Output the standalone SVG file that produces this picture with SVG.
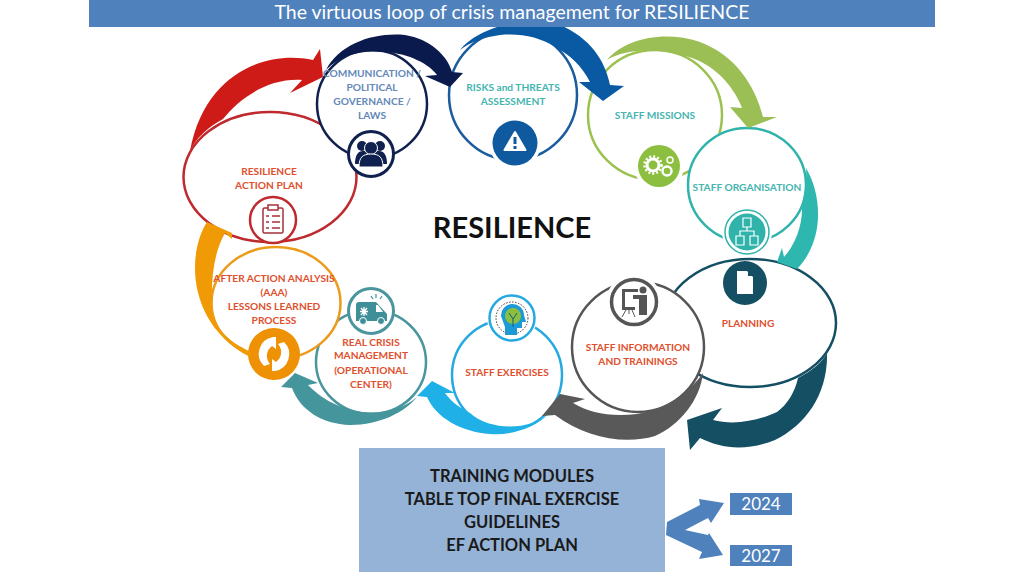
<svg xmlns="http://www.w3.org/2000/svg" width="1024" height="576" viewBox="0 0 1024 576">
<style>
text{font-family:Lato,"Liberation Sans",sans-serif;text-anchor:middle}
.b{font-weight:700;font-size:10.2px}
.r{fill:#e0502e}
.t{fill:#45b5b0}
.c{fill:#6488b8}
.n{fill:#fff}
</style>
<rect width="1024" height="576" fill="#fff"/>
<g id="node-resilience-plan">
<ellipse cx="270" cy="177" rx="86.500" ry="65" fill="#fff" stroke="#bf2a2e" stroke-width="2.500"/>
<text class="b r" x="269" y="175">RESILIENCE</text><text class="b r" x="269" y="189">ACTION PLAN</text>
<circle cx="273" cy="220" r="23" fill="#fff" stroke="#bf2a2e" stroke-width="2.500"/>
<g fill="none" stroke="#a8303a" stroke-width="1.500"><rect x="263" y="208" width="20" height="25" rx="1.500"/><rect x="268" y="205" width="10" height="5" fill="#fff"/><path d="M266,216h3M272,216h8M266,222h3M272,222h8M266,228h3M272,228h8"/></g>
</g>
<g id="node-communication">
<ellipse cx="372" cy="104" rx="55" ry="54" fill="#fff" stroke="#10204f" stroke-width="2.500"/>
<text class="b c" x="372" y="77">COMMUNICATION /</text><text class="b c" x="372" y="91">POLITICAL</text><text class="b c" x="372" y="105">GOVERNANCE /</text><text class="b c" x="372" y="119">LAWS</text>
<circle cx="371" cy="154" r="22.500" fill="#fff" stroke="#10204f" stroke-width="3"/>
<g fill="#10204f"><circle cx="362" cy="146" r="5"/><circle cx="380" cy="146" r="5"/><path d="M355,164c0-9 3-13 8-13h16c5,0 8,4 8,13z"/><circle cx="371" cy="148" r="6.500" stroke="#fff"/><path d="M359,167c0-10 4-13 12-13s12,3 12,13z" stroke="#fff"/></g>
</g>
<g id="node-risks">
<ellipse cx="513" cy="95" rx="64" ry="65" fill="#fff" stroke="#1a5c9e" stroke-width="2.500"/>
<text class="b t" x="513" y="91">RISKS and THREATS</text><text class="b t" x="513" y="105">ASSESSMENT</text>
<circle cx="515" cy="143" r="26" fill="#fff"/><circle cx="515" cy="143" r="22.500" fill="#0f5a9f"/>
<path d="M515,132l-10.500,18h21z" fill="#fff" stroke="#fff" stroke-width="2" stroke-linejoin="round"/><path d="M515,137v7M515,146v3" stroke="#0f5a9f" stroke-width="3"/>
</g>
<g id="node-missions">
<ellipse cx="655" cy="115" rx="67" ry="65" fill="#fff" stroke="#9bc150" stroke-width="2.500"/>
<text class="b t" x="655" y="119">STAFF MISSIONS</text>
<circle cx="659" cy="166" r="25" fill="#fff"/><circle cx="659" cy="166" r="21" fill="#8cbf3f"/>
<g fill="none" stroke="#fff"><circle cx="653" cy="165" r="6" stroke-width="3"/><circle cx="653" cy="165" r="8.500" stroke-width="2.500" stroke-dasharray="2 2"/><circle cx="667" cy="171" r="4.500" stroke-width="2.500"/><circle cx="670" cy="160" r="3" stroke-width="1.500"/></g>
</g>
<g id="node-organisation">
<ellipse cx="747" cy="185" rx="59" ry="57" fill="#fff" stroke="#2fb3ab" stroke-width="2.500"/>
<text class="b t" x="747" y="191">STAFF ORGANISATION</text>
<circle cx="747" cy="232" r="25" fill="#fff"/><circle cx="747" cy="232" r="22" fill="#fff" stroke="#2fb3ab" stroke-width="1.500"/><circle cx="747" cy="232" r="18.500" fill="#2fb3ab"/>
<path d="M743,218h8v9h-8zM747,227v4M740,236v-5h14v5M736,236h8v9h-8zM750,236h8v9h-8z" fill="none" stroke="#fff" stroke-width="1.200"/>
</g>
<g id="node-planning">
<ellipse cx="750" cy="323" rx="86" ry="64" fill="#fff" stroke="#144f63" stroke-width="2.500"/>
<text class="b r" x="748" y="327">PLANNING</text>
<circle cx="745" cy="283" r="22" fill="#144f63"/>
<path d="M737,271h10l6,6v17h-16z" fill="#fff"/><path d="M748,271v5h5z" fill="#144f63"/>
</g>
<g id="node-information">
<ellipse cx="638" cy="347" rx="66" ry="65" fill="#fff" stroke="#555" stroke-width="2.500"/>
<text class="b r" x="638" y="351">STAFF INFORMATION</text><text class="b r" x="638" y="365">AND TRAININGS</text>
<circle cx="634" cy="302" r="28" fill="#fff"/><circle cx="634" cy="302" r="22.500" fill="#fff" stroke="#555" stroke-width="3.500"/>
<g fill="#555"><path d="M622,289h16v3h-13v15h10v3h-13z"/><circle cx="643" cy="290" r="3.500"/><path d="M633,295h14v20h-8v-16h-6z"/><path d="M626,310l-4,7M632,310l3,7M629,310v4" stroke="#555" fill="none"/></g>
</g>
<g id="node-exercises">
<ellipse cx="507" cy="375" rx="55" ry="55" fill="#fff" stroke="#26a9e0" stroke-width="2.500"/>
<text class="b r" x="507" y="376">STAFF EXERCISES</text>
<circle cx="512" cy="318" r="25" fill="#fff"/><circle cx="512" cy="318" r="22.500" fill="#fff" stroke="#26a9e0" stroke-width="2.500"/>
<circle cx="512" cy="318" r="16" fill="none" stroke="#333" stroke-dasharray="1.500 1.500"/>
<path d="M501,316a11.500,11.500 0 0 1 23,-1l2,7h-4v6h-5v7h-12v-8z" fill="#1c9ad6"/><circle cx="513" cy="316" r="8" fill="#8cbf3f"/><path d="M513,327v-8l-4,-6M513,319l4,-6" stroke="#145a7a" fill="none"/>
</g>
<g id="node-real-crisis">
<ellipse cx="371" cy="362" rx="55" ry="52" fill="#fff" stroke="#4a959e" stroke-width="2.500"/>
<text class="b r" x="371" y="346">REAL CRISIS</text><text class="b r" x="371" y="359">MANAGEMENT</text><text class="b r" x="371" y="374">(OPERATIONAL</text><text class="b r" x="371" y="388">CENTER)</text>
<circle cx="371" cy="311" r="22.500" fill="#fff" stroke="#4a959e" stroke-width="3"/>
<path d="M356,305q0,-3 3,-3h17l11,12v7h-31z" fill="#3f8f98"/><circle cx="363" cy="321" r="3.500" fill="#3f8f98" stroke="#fff"/><circle cx="381" cy="321" r="3.500" fill="#3f8f98" stroke="#fff"/><path d="M376,305h2l5,7h-7z" fill="#fff"/><path d="M364,307v9M360,311.500h8M361,308l6,7M367,308l-6,7" stroke="#fff" stroke-width="1.300"/><path d="M371,296l2,3M376,294v4M382,296l-2,3" stroke="#3f8f98" stroke-width="1.200"/>
</g>
<g id="node-after-action">
<ellipse cx="276" cy="303" rx="64.500" ry="56" fill="#fff" stroke="#ec9a1a" stroke-width="2.500"/>
<text class="b r" x="274" y="282">AFTER ACTION ANALYSIS</text><text class="b r" x="274" y="296">(AAA)</text><text class="b r" x="274" y="310">LESSONS LEARNED</text><text class="b r" x="274" y="324">PROCESS</text>
<circle cx="274" cy="354" r="26" fill="#ee9105"/>
<path d="M273,337a17,17 0 0 0 -9,29l6,-2a12,12 0 0 1 2,-18l4,3v-12zM275,371a17,17 0 0 0 9,-29l-6,2a12,12 0 0 1 -2,18l-4,-3v12z" fill="#fff"/>
</g>
<g id="connectors">
<path d="M190,151C196,138 208,127 223,119C240,98 268,78 302,80L290,93L323,77L320,49L313,60C270,50 205,70 190,151Z" fill="#ce1b17"/>
<path d="M326,70C340,43 375,32 405,35C430,39 447,55 452,72L463,73L450,87L425,76L437,75C430,65 410,53 383,52C365,50 342,53 326,70Z" fill="#0b1a4d"/>
<path d="M460,50C475,30 520,14 560,25C590,38 605,60 610,85L624,86L603,101L579,82L590,82C582,66 570,55 555,47C540,37 520,33 500,35C485,37 470,42 460,50Z" fill="#0a5aa3"/>
<path d="M607,60C625,38 665,30 700,42C735,55 755,85 763,117L777,117L748,128L730,107L742,108C735,90 720,70 697,60C670,49 630,46 607,60Z" fill="#9cbf55"/>
<path d="M806,168C822,195 825,240 797,269L777,262L782,248L784,257C795,245 803,225 802,205C805,190 807,180 806,168Z" fill="#2db7ae"/>
<path d="M827,353C828,395 805,425 775,440C745,452 720,448 700,438L690,450L687,420L722,408L713,420C735,426 760,420 777,412C787,405 795,392 798,378C810,372 822,363 827,353Z" fill="#144f63"/>
<path d="M703,373C700,400 680,425 655,436C625,445 585,438 555,415L542,416L560,394L585,399L573,403C590,413 610,417 637,414C665,410 690,392 703,373Z" fill="#595959"/>
<path d="M550,413C535,428 510,436 490,434C462,432 436,418 427,397L417,396L432,381L455,393L445,393C452,403 462,409 470,413C490,431 530,431 550,413Z" fill="#1fb0e8"/>
<path d="M417,397C405,412 380,425 350,425C322,424 300,410 292,388L281,387L295,373L318,383L308,385C316,393 325,400 337,405C360,416 395,416 417,397Z" fill="#45959c"/>
<path d="M207,222C186,255 188,325 250,357L251,352C225,340 212,325 212,303C211,275 215,250 225,233L232,239L232,233Z" fill="#f09a06"/>
<path d="M667,522L700,505L699,499L724,503L711,523L708,518L685,530L708,535L709,533L723,555L699,559L702,552L666,535Z" fill="#4f81bd"/>
</g>
<g id="title">
<rect x="89" width="846" height="27" fill="#4f81bd"/>
<text x="512" y="19" font-size="19.500" fill="#fff">The virtuous loop of crisis management for RESILIENCE</text>
</g>
<text x="512" y="238" font-size="29" font-weight="700" fill="#111">RESILIENCE</text>
<g id="node-outputs">
<rect x="359" y="448" width="306" height="124" fill="#95b3d7"/>
<g font-size="16.500" font-weight="700" fill="#1a1a1a"><text x="512" y="482">TRAINING MODULES</text><text x="512" y="505">TABLE TOP FINAL EXERCISE</text><text x="512" y="528">GUIDELINES</text><text x="512" y="551">EF ACTION PLAN</text></g>
</g>
<g id="node-2024"><rect x="730" y="493" width="62" height="22" fill="#4f81bd"/><text class="n" x="761" y="510" font-size="17">2024</text></g>
<g id="node-2027"><rect x="730" y="545" width="62" height="21" fill="#4f81bd"/><text class="n" x="761" y="562" font-size="17">2027</text></g>
</svg>
